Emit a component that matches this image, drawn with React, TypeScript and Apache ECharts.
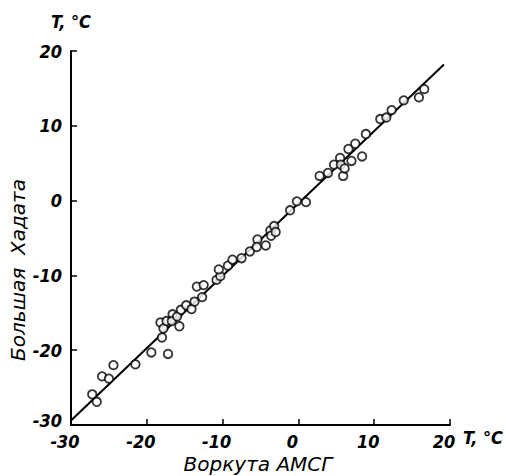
import React, { useEffect, useRef } from "react";
import * as echarts from "echarts";

// Воркута АМСГ (x) vs Большая Хадата (y), °C
const vorkutaX = [
  -27.2, -26.6, -25.9, -25.0, -24.4, -21.5, -19.4, -17.2, -18.0, -18.2,
  -17.8, -17.4, -16.6, -16.7, -16.0, -15.7, -15.5, -14.8, -14.1, -13.7,
  -13.4, -12.7, -12.5, -10.8, -10.3, -10.5, -9.3, -8.7, -7.5, -6.4,
  -5.4, -5.5, -4.3, -3.7, -3.6, -3.2, -3.0, -1.1, -0.2, 1.0,
  2.8, 3.9, 4.7, 5.5, 5.6, 5.9, 6.1, 6.6, 7.0, 7.5,
  8.4, 8.9, 10.8, 11.6, 12.3, 13.9, 15.9, 16.6,
];
const khadataY = [
  -25.9, -26.9, -23.5, -23.8, -22.0, -21.9, -20.3, -20.5, -18.3, -16.3,
  -17.1, -16.1, -15.2, -16.1, -15.5, -16.8, -14.6, -14.0, -14.5, -13.5,
  -11.5, -12.9, -11.3, -10.6, -10.1, -9.2, -8.7, -7.9, -7.7, -6.8,
  -5.2, -6.2, -6.0, -4.0, -4.7, -3.4, -4.2, -1.3, -0.1, -0.2,
  3.3, 3.7, 4.8, 5.7, 4.8, 3.3, 4.3, 6.9, 5.3, 7.6,
  5.9, 8.9, 10.9, 11.1, 12.1, 13.4, 13.8, 14.9,
];
const fitX = [-30, 19.2];
const fitY = [-29.4, 18.2];
const tickMin = -30;
const tickMax = 20;
const tickStep = 10;

const FONT = "DejaVu Sans Condensed";
const NAME_FONT = "DejaVu Sans";

export default function App() {
  const ref = useRef<HTMLDivElement>(null);
  useEffect(() => {
    if (!ref.current) return;
    const chart = echarts.init(ref.current, null, { renderer: "svg" });
    const scatterData = vorkutaX.map((x, i) => [x, khadataY[i]]);
    const lineData = fitX.map((x, i) => [x, fitY[i]]);
    const labelStyle = {
      color: "#000",
      fontFamily: FONT,
      fontStyle: "italic" as const,
      fontWeight: "bold" as const,
      fontSize: 18,
    };
    const axisCommon = {
      type: "value" as const,
      min: tickMin,
      max: tickMax,
      interval: tickStep,
      splitLine: { show: false },
      axisLine: { show: true, onZero: false, lineStyle: { color: "#000", width: 2 } },
      axisTick: { show: true, inside: true, length: 6, lineStyle: { color: "#000", width: 1.5 } },
    };
    chart.setOption({
      animation: false,
      backgroundColor: "#fff",
      grid: { left: 71, right: 56, top: 51, bottom: 51 },
      xAxis: {
        ...axisCommon,
        axisLabel: { ...labelStyle, margin: 7, padding: [0, 12, 0, 0] },
      },
      yAxis: {
        ...axisCommon,
        axisLabel: {
          ...labelStyle,
          margin: 9,
          lineHeight: 16,
          formatter: (v: number) => (v === tickMin ? `{low|${v}}` : `${v}`),
          rich: {
            low: { ...labelStyle, lineHeight: 16, padding: [0, 0, 10, 0] },
          },
        },
      },
      graphic: [
        {
          type: "text",
          left: 51,
          top: 12,
          style: { text: "T, °C", fill: "#000", font: `italic bold 18px "${FONT}"` },
        },
        {
          type: "text",
          left: 463,
          top: 428,
          style: { text: "T, °C", fill: "#000", font: `italic bold 18px "${FONT}"` },
        },
        {
          type: "text",
          x: 18,
          y: 270,
          rotation: Math.PI / 2,
          style: {
            text: "Большая  Хадата",
            fill: "#000",
            font: `italic 20px "${NAME_FONT}"`,
            align: "center",
            verticalAlign: "middle",
          },
        },
        {
          type: "text",
          x: 258,
          y: 464,
          style: {
            text: "Воркута АМСГ",
            fill: "#000",
            font: `italic 20px "${NAME_FONT}"`,
            align: "center",
            verticalAlign: "middle",
          },
        },
      ],
      series: [
        {
          type: "line",
          data: lineData,
          symbol: "none",
          lineStyle: { color: "#000", width: 2 },
          z: 2,
        },
        {
          type: "scatter",
          data: scatterData,
          symbol: "circle",
          symbolSize: 8.5,
          itemStyle: { color: "#fff", borderColor: "#000", borderWidth: 1.8 },
          z: 3,
        },
      ],
    });
    return () => chart.dispose();
  }, []);
  return (
    <div
      ref={ref}
      style={{ position: "absolute", left: 0, top: 0, width: 506, height: 476 }}
    />
  );
}
